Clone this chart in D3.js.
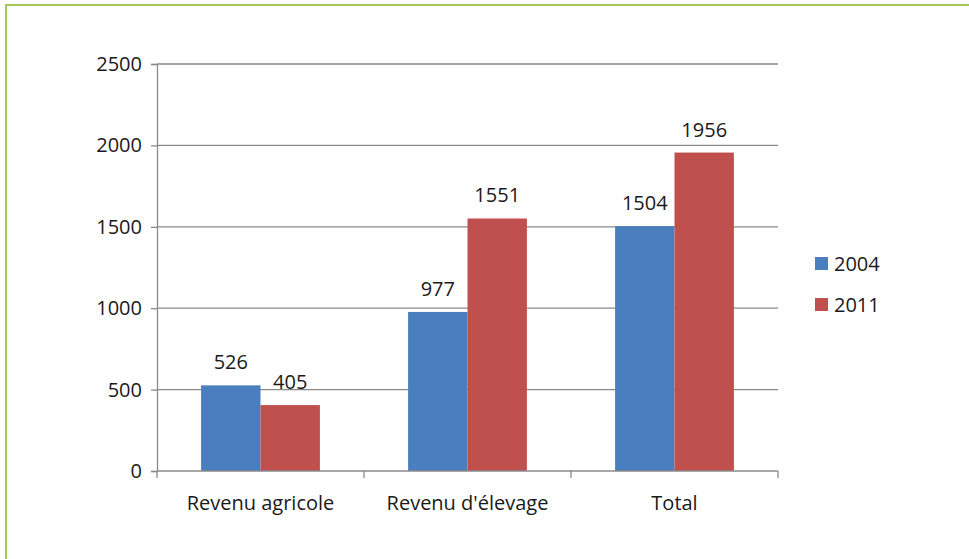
<!DOCTYPE html>
<html lang="fr">
<head>
<meta charset="UTF-8">
<title>Revenus 2004 / 2011</title>
<script src="https://cdn.jsdelivr.net/npm/d3@7"></script>
<style>
  body { margin: 0; padding: 0; background: #fff; overflow: hidden; }
  svg text { font-family: "Open Sans", sans-serif; fill: #1a1a1a; }
</style>
</head>
<body>
<div id="chart"></div>
<script>
const categories = ["Revenu agricole", "Revenu d'élevage", "Total"];
const years = ["2004", "2011"];
const values2004 = [526, 977, 1504];
const values2011 = [405, 1551, 1956];
const yTicks = [0, 500, 1000, 1500, 2000, 2500];
const colors = ["#4a7ebf", "#c0504d"];

const width = 969, height = 559;
const margin = { top: 64, right: 191, bottom: 88, left: 157 };
const fs = 20;

const svg = d3.select("#chart").append("svg")
  .attr("width", width)
  .attr("height", height);

// green frame
svg.append("rect")
  .attr("x", 6).attr("y", 5)
  .attr("width", width + 10).attr("height", height + 10)
  .attr("fill", "none")
  .attr("stroke", "#a3c95a")
  .attr("stroke-width", 2);

const x = d3.scaleBand()
  .domain(categories)
  .range([margin.left, width - margin.right]);

const xSub = d3.scaleBand()
  .domain(years)
  .range([x.bandwidth() * 0.213, x.bandwidth() * 0.787]);

const y = d3.scaleLinear()
  .domain([0, 2500])
  .range([height - margin.bottom, margin.top]);

// gridlines
svg.append("g")
  .selectAll("line")
  .data(yTicks.filter(d => d > 0))
  .enter().append("line")
  .attr("x1", margin.left)
  .attr("x2", width - margin.right)
  .attr("y1", d => y(d))
  .attr("y2", d => y(d))
  .attr("stroke", "#8a8a8a")
  .attr("stroke-width", 1.3);

// y axis
const yAxis = svg.append("g")
  .attr("transform", `translate(${margin.left},0)`)
  .call(d3.axisLeft(y).tickValues(yTicks).tickFormat(d3.format("d")).tickSize(6).tickPadding(9));
yAxis.selectAll("text").attr("font-size", fs);
yAxis.selectAll("line, path").attr("stroke", "#8a8a8a").attr("stroke-width", 1.3);

const series = categories.map((c, i) => ({
  cat: c,
  vals: [
    { year: years[0], v: values2004[i] },
    { year: years[1], v: values2011[i] }
  ]
}));

const groups = svg.append("g")
  .selectAll("g")
  .data(series)
  .enter().append("g")
  .attr("transform", d => `translate(${x(d.cat)},0)`);

groups.selectAll("rect")
  .data(d => d.vals)
  .enter().append("rect")
  .attr("x", d => xSub(d.year))
  .attr("y", d => y(d.v))
  .attr("width", xSub.bandwidth())
  .attr("height", d => y(0) - y(d.v))
  .attr("fill", (d, i) => colors[i]);

groups.selectAll("text")
  .data(d => d.vals)
  .enter().append("text")
  .attr("x", d => xSub(d.year) + xSub.bandwidth() / 2)
  .attr("y", d => y(d.v) - 16)
  .attr("text-anchor", "middle")
  .attr("font-size", fs)
  .text(d => d.v);

// x axis with ticks between categories
const xAxis = svg.append("g")
  .attr("transform", `translate(0,${y(0)})`);
xAxis.append("line")
  .attr("x1", margin.left).attr("x2", width - margin.right)
  .attr("stroke", "#8a8a8a").attr("stroke-width", 1.3);
const bounds = categories.map(c => x(c)).concat([x(categories[categories.length - 1]) + x.bandwidth()]);
xAxis.selectAll(".tick")
  .data(bounds)
  .enter().append("line")
  .attr("x1", d => d).attr("x2", d => d)
  .attr("y1", 0).attr("y2", 7)
  .attr("stroke", "#8a8a8a").attr("stroke-width", 1.3);
xAxis.selectAll(".label")
  .data(categories)
  .enter().append("text")
  .attr("x", d => x(d) + x.bandwidth() / 2)
  .attr("y", 39)
  .attr("text-anchor", "middle")
  .attr("font-size", fs)
  .text(d => d);

// legend
const legend = svg.append("g")
  .attr("transform", "translate(815,257)");
const items = legend.selectAll("g")
  .data(years)
  .enter().append("g")
  .attr("transform", (d, i) => `translate(0,${i * 41})`);
items.append("rect")
  .attr("width", 13).attr("height", 13)
  .attr("fill", (d, i) => colors[i]);
items.append("text")
  .attr("x", 19).attr("y", 14)
  .attr("font-size", fs)
  .text(d => d);
</script>
</body>
</html>
